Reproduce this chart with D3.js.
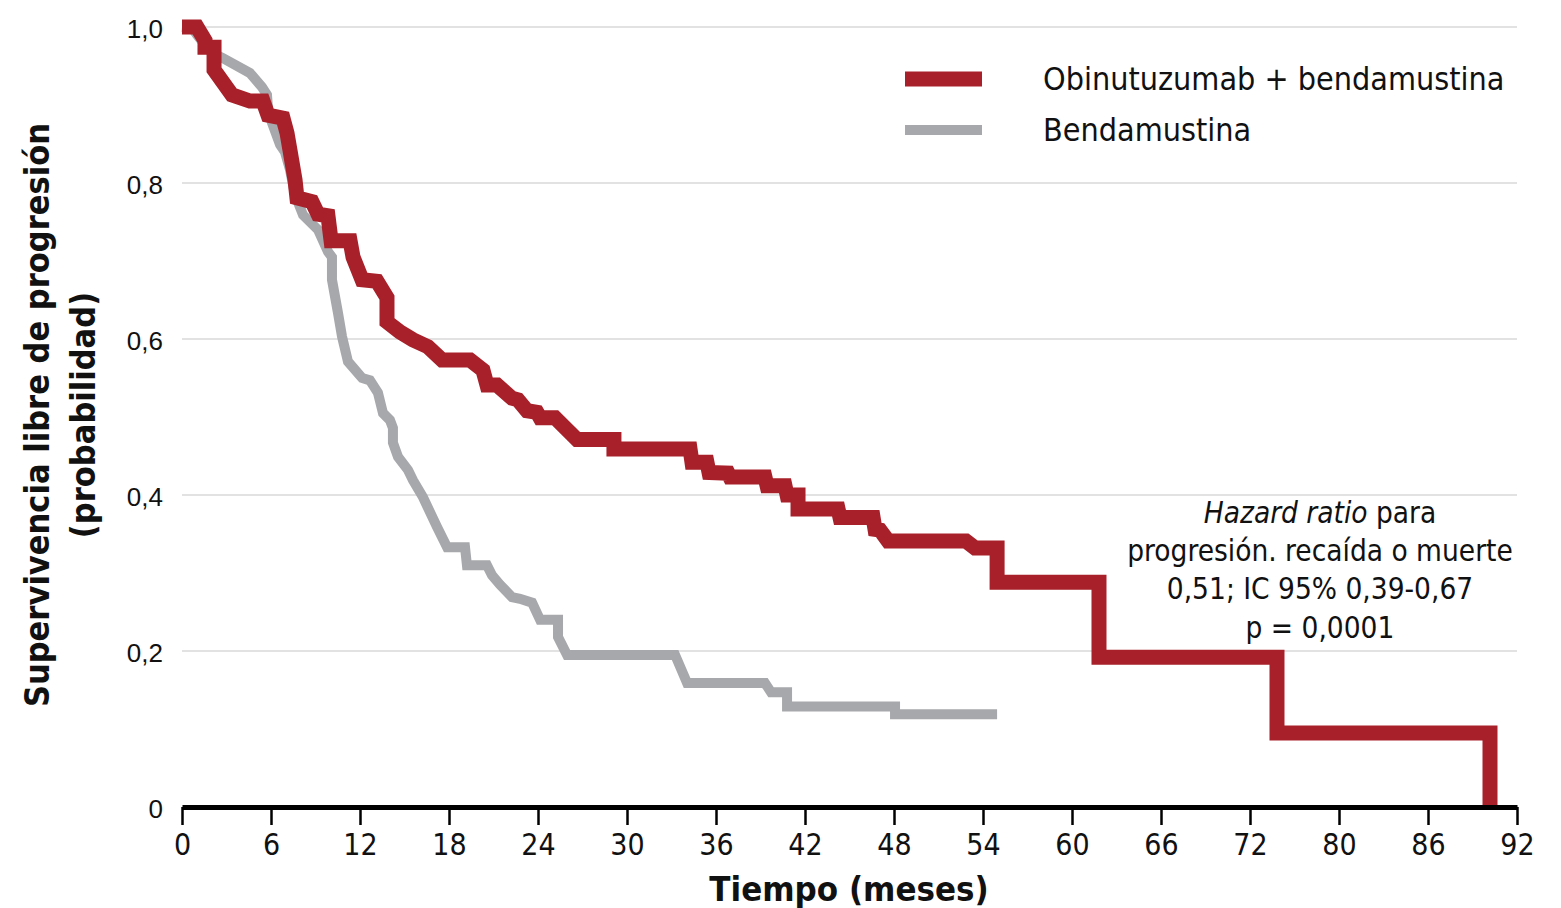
<!DOCTYPE html>
<html><head><meta charset="utf-8">
<script src="https://cdn.jsdelivr.net/npm/d3@7"></script>
<style>body{margin:0;background:#fff;} svg{display:block}</style>
</head><body><svg id="c" width="1561" height="908"></svg>
<script>
// Obinutuzumab + bendamustina (months, probability)
const obinT = [0,1.01,1.55,1.55,2.16,2.16,3.37,4.58,5.46,5.80,6.81,7.08,7.28,7.62,7.75,8.76,9.17,9.84,10.05,11.33,11.53,12.14,13.15,13.82,13.82,14.70,15.57,16.58,17.53,19.42,20.29,20.56,21.24,22.25,22.65,23.26,23.93,24.14,25.15,26.63,29.12,29.12,34.25,34.38,35.39,35.53,36.81,36.94,39.30,39.44,40.65,40.79,41.53,41.53,44.23,44.36,46.59,46.72,47.06,47.60,52.85,53.46,54.95,54.95,61.82,61.82,73.82,73.82,88.18,88.18];
const obinS = [1.000,1.000,0.983,0.974,0.974,0.945,0.913,0.905,0.905,0.887,0.883,0.864,0.842,0.804,0.781,0.776,0.760,0.758,0.726,0.726,0.705,0.676,0.674,0.653,0.622,0.609,0.599,0.590,0.573,0.573,0.560,0.541,0.541,0.524,0.522,0.508,0.506,0.499,0.499,0.471,0.471,0.459,0.459,0.442,0.442,0.429,0.428,0.423,0.423,0.412,0.412,0.400,0.400,0.382,0.382,0.371,0.371,0.356,0.355,0.341,0.341,0.332,0.332,0.288,0.288,0.192,0.192,0.095,0.095,0.0];
// Bendamustina (months, probability)
const bendT = [0,0.67,1.01,1.55,2.02,2.76,4.58,5.39,5.73,5.80,6.07,6.61,6.94,7.28,7.62,8.16,9.17,9.84,10.11,10.11,10.52,10.79,11.19,12.14,12.67,13.21,13.55,14.02,14.22,14.22,14.56,15.24,15.57,16.25,17.19,17.87,19.08,19.21,20.56,20.90,21.44,22.25,22.79,23.60,24.14,25.35,25.35,25.96,33.24,34.05,39.30,39.71,40.79,40.79,48.07,48.07,54.95];
const bendS = [1.000,0.999,0.990,0.977,0.967,0.960,0.941,0.923,0.913,0.894,0.877,0.849,0.840,0.817,0.785,0.759,0.740,0.712,0.705,0.676,0.633,0.603,0.571,0.550,0.547,0.531,0.505,0.496,0.486,0.467,0.449,0.432,0.419,0.397,0.359,0.333,0.333,0.310,0.310,0.297,0.285,0.269,0.267,0.262,0.240,0.240,0.218,0.195,0.195,0.159,0.159,0.147,0.147,0.129,0.129,0.119,0.119];

const yTickValues = [0,0.2,0.4,0.6,0.8,1.0];
const yTickLabels = ["0","0,2","0,4","0,6","0,8","1,0"];
const xTickValues = [0,6,12,18,24,30,36,42,48,54,60,66,72,78,84,90];
const xTickLabels = ["0","6","12","18","24","30","36","42","48","54","60","66","72","80","86","92"];
const seriesNames = ["Obinutuzumab + bendamustina","Bendamustina"];
const seriesColors = ["#a8202a","#a7a8ab"];

const svg = d3.select("#c");
const narrow = "'Liberation Sans Narrow','DejaVu Sans Condensed','Roboto Condensed',sans-serif";
const x = d3.scaleLinear().domain([0,90]).range([182,1517]);
const y = d3.scaleLinear().domain([0,1]).range([807,27]);

// gridlines
svg.append("g").selectAll("line").data(yTickValues.filter(v=>v>0)).join("line")
  .attr("x1",x(0)).attr("x2",x(90)).attr("y1",d=>y(d)).attr("y2",d=>y(d))
  .attr("stroke","#d8d8d8").attr("stroke-width",1.5);

// curves
const line = d3.line().x(d=>x(d[0])).y(d=>y(d[1]));
const bend = bendT.map((t,i)=>[t,bendS[i]]);
const obin = obinT.map((t,i)=>[t,obinS[i]]);
svg.append("path").attr("d",line(bend)).attr("fill","none")
  .attr("stroke",seriesColors[1]).attr("stroke-width",10).attr("stroke-linejoin","miter").attr("stroke-linecap","butt");
svg.append("path").attr("d",line(obin)).attr("fill","none")
  .attr("stroke",seriesColors[0]).attr("stroke-width",15).attr("stroke-linejoin","miter").attr("stroke-linecap","butt");

// x axis
const xa = svg.append("g").attr("transform","translate(0,807)")
  .call(d3.axisBottom(x).tickValues(xTickValues).tickFormat((d,i)=>xTickLabels[i]).tickSize(18).tickSizeOuter(0).tickPadding(9));
xa.select(".domain").attr("stroke","#000").attr("stroke-width",5);
xa.selectAll(".tick line").attr("stroke","#000").attr("stroke-width",2.5);
xa.selectAll(".tick text").attr("font-family",narrow).attr("font-size",30).attr("fill","#111");

// y axis labels
const ya = svg.append("g").attr("transform","translate(182,0)")
  .call(d3.axisLeft(y).tickValues(yTickValues).tickFormat((d,i)=>yTickLabels[i]).tickSize(0).tickPadding(19));
ya.select(".domain").remove();
ya.selectAll(".tick text").attr("font-family","'Liberation Sans',Arial,sans-serif").attr("font-size",26).attr("fill","#111").attr("dy","0.42em");

// axis titles
svg.append("text").attr("x",849).attr("y",901).attr("text-anchor","middle")
  .attr("font-family",narrow).attr("font-weight","bold").attr("font-size",34.5).attr("fill","#111").text("Tiempo (meses)");
const yt = svg.append("g").attr("transform","translate(0,415) rotate(-90)");
yt.append("text").attr("x",0).attr("y",49).attr("text-anchor","middle")
  .attr("font-family",narrow).attr("font-weight","bold").attr("font-size",34).attr("fill","#111").text("Supervivencia libre de progresión");
yt.append("text").attr("x",0).attr("y",95).attr("text-anchor","middle")
  .attr("font-family",narrow).attr("font-weight","bold").attr("font-size",34).attr("fill","#111").text("(probabilidad)");

// legend
const lg = svg.append("g");
[0,1].forEach(i=>{
  const cy = i===0 ? 79 : 130;
  lg.append("line").attr("x1",905).attr("x2",982).attr("y1",cy).attr("y2",cy)
    .attr("stroke",seriesColors[i]).attr("stroke-width",i===0?15:10);
  lg.append("text").attr("x",1043).attr("y",cy).attr("dy","0.35em")
    .attr("font-family",narrow).attr("font-size",32).attr("fill","#111").text(seriesNames[i]);
});

// annotation
const ann = svg.append("text").attr("text-anchor","middle").attr("font-family",narrow).attr("font-size",29.5).attr("fill","#111");
const l1 = ann.append("tspan").attr("x",1320).attr("y",523);
l1.append("tspan").attr("font-style","italic").text("Hazard ratio");
l1.append("tspan").text(" para");
ann.append("tspan").attr("x",1320).attr("y",561).text("progresión. recaída o muerte");
ann.append("tspan").attr("x",1320).attr("y",599).text("0,51; IC 95% 0,39-0,67");
ann.append("tspan").attr("x",1320).attr("y",638).text("p = 0,0001");
</script>
</body></html>
